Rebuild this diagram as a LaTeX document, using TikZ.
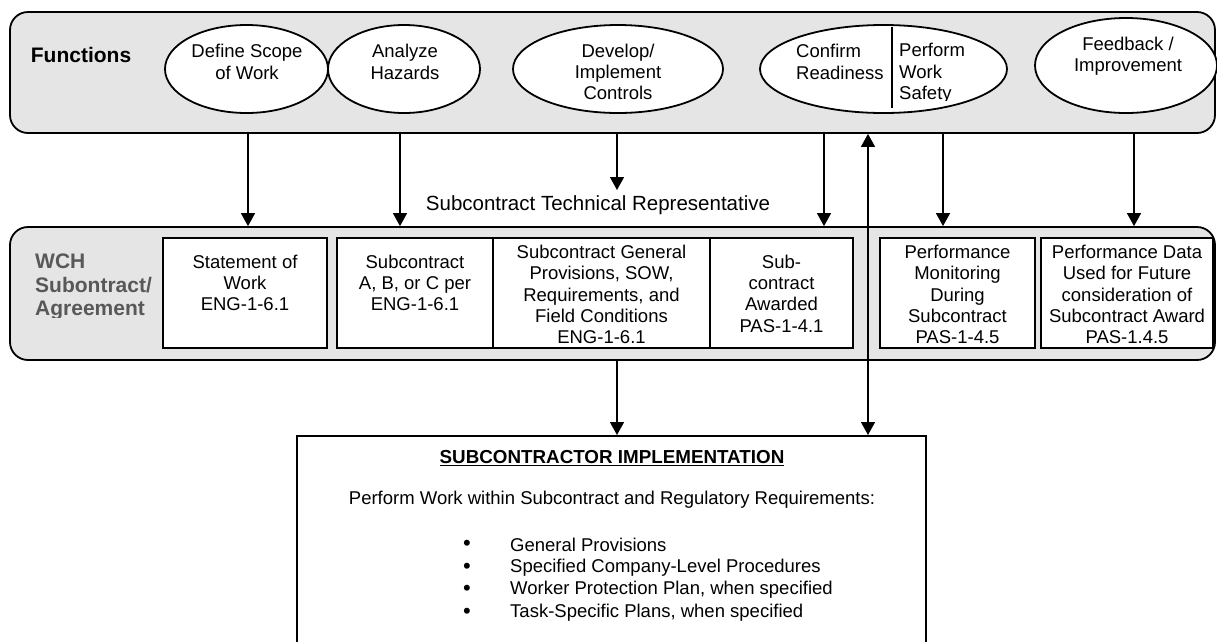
\documentclass[tikz,border=0pt]{standalone}
\usepackage{fontspec}
\setmainfont{Liberation Sans}
\usetikzlibrary{shapes.geometric,arrows.meta}
\definecolor{panelgray}{RGB}{229,229,229}
\definecolor{labelgray}{RGB}{88,88,88}
\newcommand\fsmain{\fontsize{18.5}{21.3}\selectfont}
\newcommand\fslab{\fontsize{21}{23.5}\selectfont\bfseries}
\newcommand\fsrep{\fontsize{20.5}{23}\selectfont}
\newcommand\fstitle{\fontsize{18.8}{21}\selectfont\bfseries}
\begin{document}
\begin{tikzpicture}[x=1pt,y=-1pt,
  panel/.style={draw, line width=1.8pt, rounded corners=18pt, fill=panelgray, inner sep=0pt},
  oval/.style={draw, ellipse, line width=1.8pt, fill=white, inner sep=0pt},
  docbox/.style={draw, line width=1.8pt, fill=white, inner sep=0pt},
  txt/.style={font=\fsmain, align=center, inner sep=0pt},
  ltxt/.style={font=\fsmain, align=left, inner sep=0pt, anchor=west},
  arr/.style={line width=1.5pt, -{Triangle[length=13pt,width=14pt]}},
  darr/.style={line width=1.5pt, {Triangle[length=13pt,width=14pt]}-{Triangle[length=13pt,width=14pt]}}]

\clip (0,0) rectangle (1217,641);
\fill[white] (0,0) rectangle (1217,641);

% ---- Functions band ----
\node[panel, minimum width=1205pt, minimum height=121pt] (fun) at (612.5,72.5) {};
\node[font=\fslab, inner sep=0pt] (funlab) at (81,55) {Functions};

\node[oval, minimum width=163pt, minimum height=88pt] (scope) at (246.5,69) {};
\node[oval, minimum width=152pt, minimum height=88pt] (haz) at (404,69) {};
\node[oval, minimum width=210pt, minimum height=88pt] (ctrl) at (618,69) {};
\node[oval, minimum width=247pt, minimum height=88pt] (ready) at (883.5,69) {};
\node[oval, minimum width=182pt, minimum height=95pt] (fb) at (1126,65.5) {};

\node[txt] (scopet) at (247,62) {Define Scope\\of Work};
\node[txt] (hazt) at (405,62) {Analyze\\Hazards};
\node[txt] (ctrlt) at (618,72) {Develop/\\Implement\\Controls};
\node[ltxt] (readyt) at (796,62) {Confirm\\Readiness};
\begin{scope}
  \clip (895,30) rectangle (1000,100.5);
  \node[ltxt] (safet) at (899,73.5) {Perform\\ Work\\ Safety};
\end{scope}
\node[txt] (fbt) at (1128,56) {Feedback /\\Improvement};

% split inside the readiness oval
\draw[line width=1.8pt] (892,27) -- (892,108);

% ---- Subcontract band ----
\node[panel, minimum width=1205pt, minimum height=133pt] (wch) at (612.5,293.5) {};
\begin{scope}
  \clip (25,240) rectangle (170,317);
  \node[font=\fslab, text=labelgray, align=left, inner sep=0pt, anchor=west] (wchlab) at (35,287) {WCH\\Subontract/\\Agreement};
\end{scope}

\node[docbox, minimum width=164pt, minimum height=110pt] (sow) at (245,293) {};
\node[docbox, minimum width=156pt, minimum height=110pt] (abc) at (415,293) {};
\node[docbox, minimum width=217pt, minimum height=110pt] (gen) at (601.5,293) {};
\node[docbox, minimum width=143pt, minimum height=110pt] (award) at (781.5,293) {};
\node[docbox, minimum width=155pt, minimum height=110pt] (mon) at (957.5,293) {};
\node[docbox, minimum width=172pt, minimum height=110pt] (data) at (1127,293) {};

\node[txt] (sowt) at (245,283) {Statement of\\Work\\ENG-1-6.1};
\node[txt] (abct) at (415,283) {Subcontract\\A, B, or C per\\ENG-1-6.1};
\node[txt] (gent) at (601.5,294.5) {Subcontract General\\Provisions, SOW,\\Requirements, and\\Field Conditions\\ENG-1-6.1};
\node[txt] (awardt) at (781.5,293.5) {Sub-\\contract\\Awarded\\PAS-1-4.1};
\node[txt] (mont) at (957.5,294.5) {Performance\\Monitoring\\During\\Subcontract\\PAS-1-4.5};
\node[txt] (datat) at (1127,294.5) {Performance Data\\Used for Future\\consideration of\\Subcontract Award\\PAS-1.4.5};

\node[font=\fsrep, inner sep=0pt] (rep) at (598,205) {Subcontract Technical Representative};

% ---- Implementation box ----
\node[docbox, minimum width=629pt, minimum height=240pt, anchor=north] (impl) at (611.5,435) {};
\node[font=\fstitle, inner sep=0pt] (implt) at (612,458) {\underline{SUBCONTRACTOR IMPLEMENTATION}};
\node[txt] (perf) at (612,500) {Perform Work within Subcontract and Regulatory Requirements:};
\foreach \y/\t [count=\i] in {545/General Provisions,568/Specified Company-Level Procedures,590/{Worker Protection Plan, when specified},613/{Task-Specific Plans, when specified}}{
  \node[txt, font=\fontsize{22}{22}\selectfont] (bul\i) at (467,\y) {\textbullet};
  \node[ltxt] (item\i) at (510,\y) {\t};
}

% ---- connectors ----
\coordinate (c1) at (248,0);
\coordinate (c2) at (400,0);
\coordinate (c3) at (617,0);
\coordinate (c4) at (824,0);
\coordinate (c5) at (868,0);
\coordinate (c6) at (943,0);
\coordinate (c7) at (1134,0);
\coordinate (reptip) at (617,190);

\draw[arr] (fun.south -| c1) -- (wch.north -| c1);
\draw[arr] (fun.south -| c2) -- (wch.north -| c2);
\draw[arr] (fun.south -| c3) -- (reptip);
\draw[arr] (fun.south -| c4) -- (wch.north -| c4);
\draw[arr] (fun.south -| c6) -- (wch.north -| c6);
\draw[arr] (fun.south -| c7) -- (wch.north -| c7);
\draw[arr] (wch.south -| c3) -- (impl.north -| c3);
\draw[darr] (fun.south -| c5) -- (impl.north -| c5);
\end{tikzpicture}
\end{document}
